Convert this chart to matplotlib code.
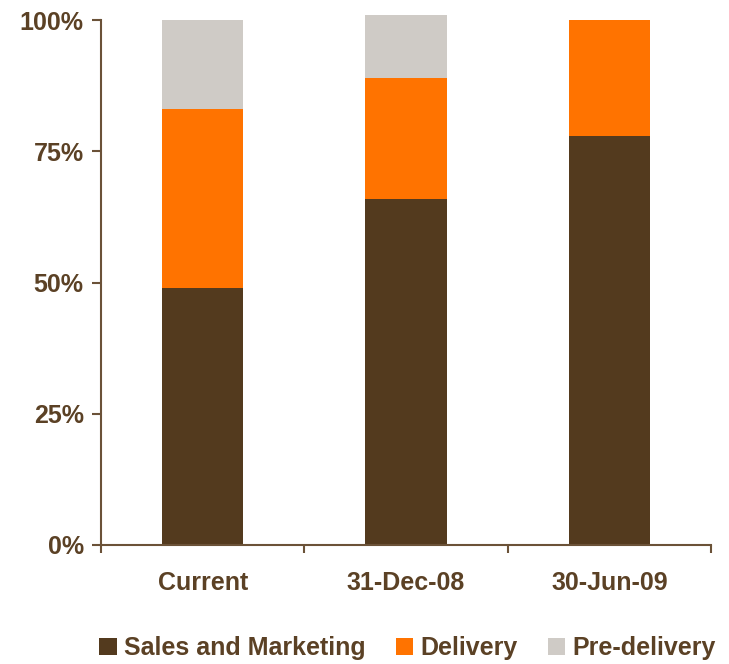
import matplotlib
matplotlib.use("Agg")
import matplotlib.pyplot as plt
import numpy as np

# Share of effort by phase at each milestone (percent)
categories = ["Current", "31-Dec-08", "30-Jun-09"]
sales_marketing = [49, 66, 78]
delivery = [34, 23, 22]
pre_delivery = [17, 12, 0]
y_ticks = [0, 25, 50, 75, 100]
y_tick_labels = ["0%", "25%", "50%", "75%", "100%"]

series = [
    ("Sales and Marketing", sales_marketing, "#533A1E"),
    ("Delivery", delivery, "#FF7300"),
    ("Pre-delivery", pre_delivery, "#CFCBC6"),
]

text_color = "#5B4125"
axis_color = "#6B5238"

plt.rcParams["font.family"] = ["Liberation Sans", "DejaVu Sans"]
plt.rcParams["font.weight"] = "bold"

fig = plt.figure(figsize=(7.29, 6.64), dpi=100)
ax = fig.add_axes([101 / 729, (664 - 545) / 664, (711 - 101) / 729, (545 - 20) / 664])

x = np.arange(len(categories))
bottom = np.zeros(len(categories))
handles = []
for name, vals, color in series:
    vals = np.array(vals, dtype=float)
    bars = ax.bar(x, vals, width=0.40, bottom=bottom, color=color,
                  label=name, clip_on=False, zorder=2)
    handles.append(bars)
    bottom += vals

ax.set_xlim(-0.5, len(categories) - 0.5)
ax.set_ylim(0, 100)

for side in ("top", "right"):
    ax.spines[side].set_visible(False)
for side in ("left", "bottom"):
    ax.spines[side].set_color(axis_color)
    ax.spines[side].set_linewidth(1.5)
    ax.spines[side].set_zorder(3)

ax.set_yticks(y_ticks)
ax.set_yticklabels(y_tick_labels)
ax.tick_params(axis="y", direction="out", length=6.5, width=1.5,
               color=axis_color, labelcolor=text_color, labelsize=18, pad=6)

ax.set_xticks(x)
ax.set_xticklabels(categories)
ax.tick_params(axis="x", which="major", length=0, labelcolor=text_color,
               labelsize=18, pad=19)
ax.set_xticks(np.arange(len(categories) + 1) - 0.5, minor=True)
ax.tick_params(axis="x", which="minor", direction="out", length=6, width=1.5,
               color=axis_color)

for lbl in ax.get_xticklabels() + ax.get_yticklabels():
    lbl.set_fontweight("bold")

leg = fig.legend(handles=handles, loc="center left",
                 bbox_to_anchor=(99 / 729, (664 - 648) / 664),
                 ncol=3, frameon=False, fontsize=18,
                 handlelength=0.7, handleheight=0.7, handletextpad=0.3,
                 columnspacing=1.2, borderpad=0, borderaxespad=0)
for t in leg.get_texts():
    t.set_color(text_color)
    t.set_fontweight("bold")

fig.savefig("out.png", dpi=100)
